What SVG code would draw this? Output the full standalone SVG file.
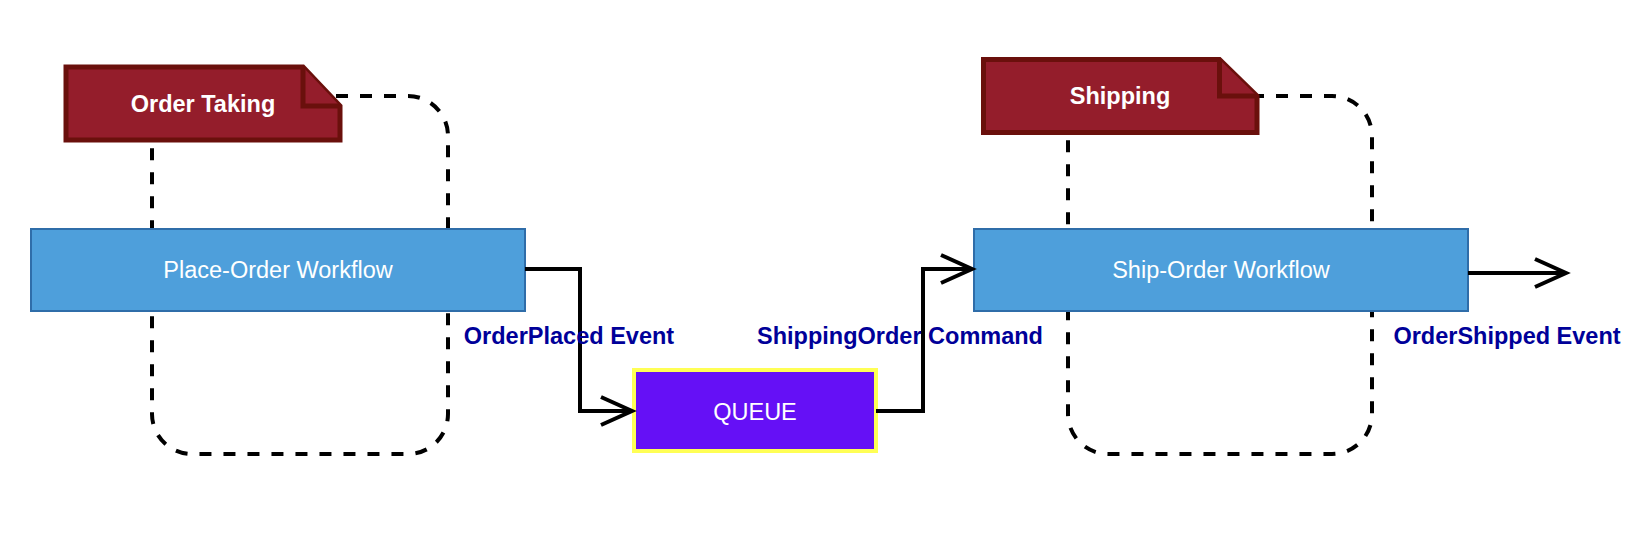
<svg xmlns="http://www.w3.org/2000/svg" width="1648" height="552" viewBox="0 0 1648 552">
  <style>
    .ctx { fill: none; stroke: #000; stroke-width: 4; stroke-dasharray: 12 12; }
    .note { fill: #941D2B; stroke: #6A100C; stroke-width: 5; stroke-linejoin: miter; }
    .notetxt { font-family: "Liberation Sans", Arial, sans-serif; font-size: 23.5px; font-weight: bold; fill: #fff; text-anchor: middle; }
    .wf { fill: #4E9FDB; stroke: #2F6DA9; stroke-width: 2; }
    .txt { font-family: "Liberation Sans", Arial, sans-serif; font-size: 23.5px; fill: #fff; text-anchor: middle; }
    .queue { fill: #6510F6; stroke: #FFFF55; stroke-width: 4; }
    .conn { fill: none; stroke: #000; stroke-width: 4; }
    .lbl { font-family: "Liberation Sans", Arial, sans-serif; font-size: 23.5px; font-weight: bold; fill: #000099; text-anchor: middle; }
  </style>
  <defs>
    <marker id="open" markerUnits="userSpaceOnUse" viewBox="-36 -18 40 36" refX="0" refY="0" markerWidth="40" markerHeight="36" orient="auto" overflow="visible">
      <path d="M-31,-14 L0,0 L-31,14" fill="none" stroke="#000" stroke-width="4"/>
    </marker>
  </defs>

  <g id="ctx-order-taking">
    <rect class="ctx" x="152" y="96" width="296" height="358" rx="40" ry="40"/>
  </g>
  <g id="ctx-shipping">
    <rect class="ctx" x="1068" y="96" width="304" height="358" rx="40" ry="40"/>
  </g>

  <g id="note-order-taking">
    <path class="note" d="M66,67 H303 L340,106 V140 H66 Z"/>
    <path class="note" d="M303,67 V106 H340"/>
    <text class="notetxt" x="203" y="112">Order Taking</text>
  </g>

  <g id="note-shipping">
    <path class="note" d="M983.5,59.5 H1219.5 L1257,96 V132.5 H983.5 Z"/>
    <path class="note" d="M1219.5,59.5 V96 H1257"/>
    <text class="notetxt" x="1120" y="104">Shipping</text>
  </g>

  <g id="place-order-workflow">
    <rect class="wf" x="31" y="229" width="494" height="82"/>
    <text class="txt" x="278" y="278">Place-Order Workflow</text>
  </g>

  <g id="queue">
    <rect class="queue" x="634" y="370" width="242" height="81"/>
    <text class="txt" x="755" y="420">QUEUE</text>
  </g>

  <g id="ship-order-workflow">
    <rect class="wf" x="974" y="229" width="494" height="82"/>
    <text class="txt" x="1221" y="278">Ship-Order Workflow</text>
  </g>

  <g id="connectors">
    <path class="conn" d="M525,269 H580 V411 H632" marker-end="url(#open)"/>
    <path class="conn" d="M876,411 H923 V269 H972" marker-end="url(#open)"/>
    <path class="conn" d="M1468,273 H1566" marker-end="url(#open)"/>
    <text class="lbl" x="569" y="344">OrderPlaced Event</text>
    <text class="lbl" x="900" y="344">ShippingOrder Command</text>
    <text class="lbl" x="1507" y="344">OrderShipped Event</text>
  </g>
</svg>
